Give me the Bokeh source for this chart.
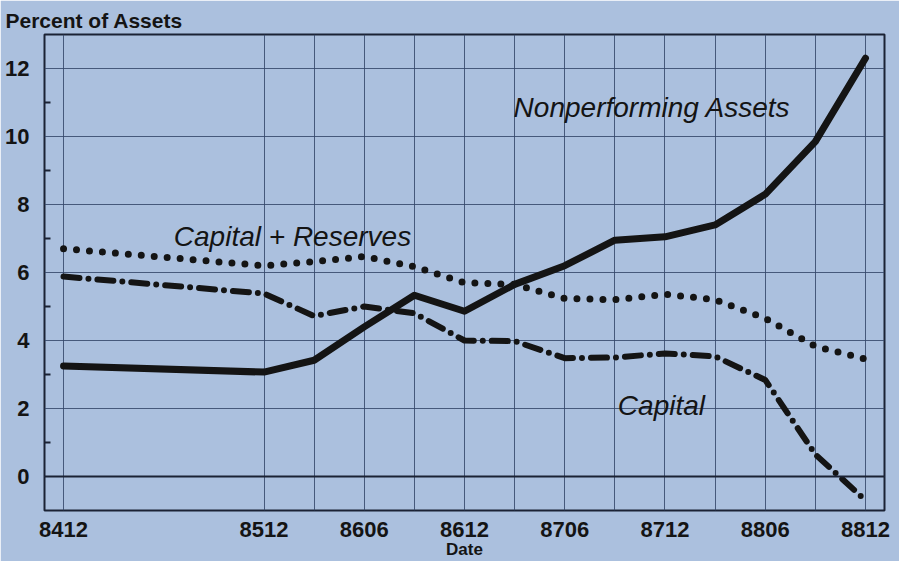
from bokeh.plotting import figure
from bokeh.models import FixedTicker, Label, Span, Range1d
from bokeh.embed import file_html
from bokeh.resources import INLINE

# ---- data (percent of assets) ----
dates = ["8412", "8512", "8603", "8606", "8609", "8612", "8703", "8706",
         "8709", "8712", "8803", "8806", "8809", "8812"]
nonperforming = [3.25, 3.07, 3.42, 4.4, 5.33, 4.86, 5.65, 6.2,
                 6.95, 7.05, 7.4, 8.3, 9.85, 12.3]
cap_reserves = [6.7, 6.2, 6.32, 6.47, 6.17, 5.7, 5.65, 5.24,
                5.2, 5.36, 5.2, 4.65, 3.83, 3.45]
capital = [5.88, 5.38, 4.72, 5.0, 4.8, 4.0, 3.98, 3.48,
           3.5, 3.62, 3.53, 2.84, 0.65, -0.7]
tick_dates = ["8412", "8512", "8606", "8612", "8706", "8712", "8806", "8812"]
y_ticks = [0, 2, 4, 6, 8, 10, 12]
y_minor = [1, 3, 5, 7, 9, 11]


def q(d):
    """quarter index since 8412"""
    return (int(d[:2]) - 84) * 4 + int(d[2:]) // 3 - 4


xs = [q(d) for d in dates]
grid_x = [q(d) for d in dates]
tick_x = [q(d) for d in tick_dates]

BG = "#abc0de"
INK = "#141414"
GRID = "#34466a"
FONT = "Liberation Sans"

p = figure(width=899, height=561, output_backend="svg", toolbar_location=None,
           x_range=Range1d(-0.38, 16.38), y_range=Range1d(-1, 13),
           min_border_left=44, min_border_right=15, min_border_top=34,
           min_border_bottom=50)
p.background_fill_color = BG
p.border_fill_color = BG
p.outline_line_color = "#1b2234"
p.outline_line_width = 2

# title used as the y-axis caption
p.title.text = "Percent of Assets"
p.title.align = "left"
p.title.offset = -39
p.title.text_font = FONT
p.title.text_font_size = "21px"
p.title.text_font_style = "bold"
p.title.text_color = INK
p.title.standoff = 6

# grids
p.xgrid.ticker = FixedTicker(ticks=grid_x)
p.ygrid.ticker = FixedTicker(ticks=y_ticks)
for g in (p.xgrid, p.ygrid):
    g.grid_line_color = GRID
    g.grid_line_width = 1
    g.grid_line_alpha = 0.85

p.add_layout(Span(location=0, dimension="width", line_color="#1b2234", line_width=2))

# axes
p.xaxis.ticker = FixedTicker(ticks=tick_x)
p.xaxis.major_label_overrides = {q(d): d for d in tick_dates}
p.yaxis.ticker = FixedTicker(ticks=y_ticks, minor_ticks=y_minor)
for ax in (p.xaxis, p.yaxis):
    ax.axis_line_color = None
    ax.major_tick_line_color = None
    ax.major_label_text_font = FONT
    ax.major_label_text_font_size = "22px"
    ax.major_label_text_font_style = "bold"
    ax.major_label_text_color = INK
    ax.major_label_standoff = 9
p.xaxis.major_label_standoff = 5
p.xaxis.axis_label = "Date"
p.xaxis.axis_label_text_font = FONT
p.xaxis.axis_label_text_font_size = "17px"
p.xaxis.axis_label_text_font_style = "bold"
p.xaxis.axis_label_text_color = INK
p.xaxis.axis_label_standoff = 0
p.xaxis.minor_tick_line_color = None
p.yaxis.minor_tick_line_color = "#1b2234"
p.yaxis.minor_tick_line_width = 2
p.yaxis.minor_tick_in = 6
p.yaxis.minor_tick_out = 0

# series
p.line(xs, nonperforming, line_color=INK, line_width=7,
       line_join="round", line_cap="round")
p.line(xs, cap_reserves, line_color=INK, line_width=7, line_dash="0 13",
       line_cap="round", line_join="round")
p.line(xs, capital, line_color=INK, line_width=6, line_dash="16 9 0 9",
       line_cap="round", line_join="round")

# series labels
def lab(x, y, text):
    p.add_layout(Label(x=x, y=y, text=text, text_font=FONT,
                       text_font_size="28px", text_font_style="italic",
                       text_color=INK, text_align="left",
                       text_baseline="alphabetic"))

lab(8.98, 10.86, "Nonperforming Assets")
lab(2.2, 7.05, "Capital + Reserves")
lab(11.06, 2.08, "Capital")

open("out.html", "w").write(file_html(p, INLINE))
